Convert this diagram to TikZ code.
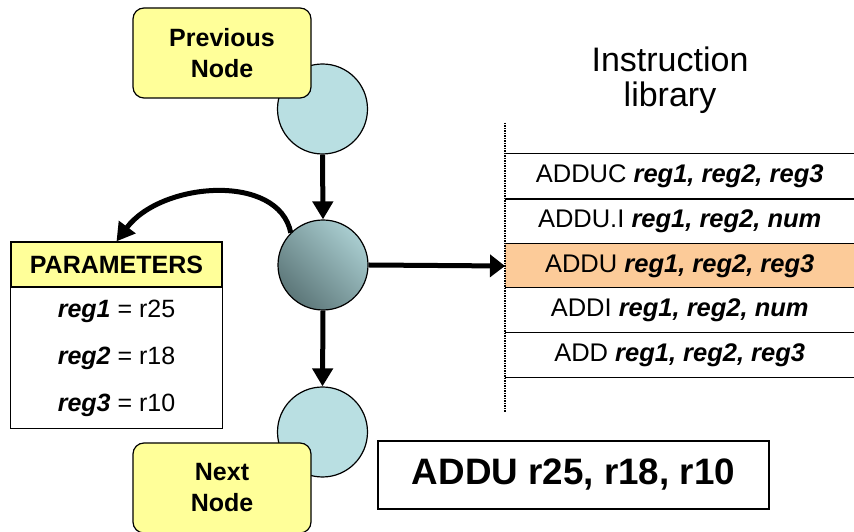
\documentclass[tikz,border=0pt]{standalone}
\usepackage{fontspec}
\setmainfont{Liberation Sans}
\usetikzlibrary{arrows.meta,shadings}
\definecolor{nodeblue}{HTML}{B9DFE2}
\definecolor{darkteal}{HTML}{4C6466}
\colorlet{midteal}{nodeblue!50!darkteal}
\definecolor{lblyellow}{HTML}{FFFF99}
\definecolor{rowfill}{HTML}{FCCB99}
\tikzset{
  stepnode/.style={circle, draw=black, line width=1.2pt, fill=nodeblue, minimum size=90pt, inner sep=0pt},
  labelbox/.style={draw=black, line width=1.2pt, fill=lblyellow, rounded corners=11pt, minimum width=178pt, minimum height=90pt, align=center, font=\fontsize{25}{31}\selectfont\bfseries, inner sep=0pt},
  flow/.style={line width=5pt, -{Triangle[length=18pt,width=20pt]}},
  librow/.style={minimum width=349pt, minimum height=44.5pt, inner sep=0pt, anchor=west, font=\fontsize{25.5}{28}\selectfont},
  parrow/.style={minimum width=211pt, minimum height=46.7pt, inner sep=0pt, font=\fontsize{25}{30}\selectfont},
  rule/.style={line width=1.2pt}
}
\newcommand{\rg}[1]{\textbf{\textit{#1}}}
\begin{document}
\begin{tikzpicture}[x=1pt,y=1pt]
\useasboundingbox (0,0) rectangle (854,532);
% circles
\node[stepnode] (top) at (322.5,423) {};
\node[stepnode, fill=none, lower left=darkteal, upper right=nodeblue, upper left=midteal, lower right=midteal] (mid) at (323,267) {};
\node[stepnode] (bot) at (322.5,100) {};
% label boxes
\node[labelbox] (prev) at (222,479) {Previous\\Node};
\node[labelbox] (next) at (222,44) {Next\\Node};
% parameters table
\node[parrow, draw, rule, fill=lblyellow, minimum height=45pt, font=\fontsize{25}{30}\selectfont\bfseries] (hdr) at (116.5,267.5) {PARAMETERS};
\node[parrow, anchor=north] (p1) at (hdr.south) {\rg{reg1} = r25};
\node[parrow, anchor=north] (p2) at (p1.south) {\rg{reg2} = r18};
\node[parrow, anchor=north] (p3) at (p2.south) {\rg{reg3} = r10};
\draw[rule] (hdr.south west) rectangle (p3.south east);
% instruction library
\node[font=\fontsize{34}{35}\selectfont, align=center] (title) at (670,452) {Instruction\\library};
\node[librow] (r1) at (505,356) {ADDUC \rg{reg1, reg2, reg3}};
\node[librow] (r2) at (505,310.5) {ADDU.I \rg{reg1, reg2, num}};
\node[librow, fill=rowfill] (r3) at (505,266) {ADDU \rg{reg1, reg2, reg3}};
\node[librow] (r4) at (505,222) {ADDI \rg{reg1, reg2, num}};
\node[librow] (r5) at (505,177) {ADD \rg{reg1, reg2, reg3}};
\foreach \r in {r1,r2,r3,r4,r5}{\draw[rule] (\r.north west) -- (\r.north east);}
\draw[rule] (r5.south west) -- (r5.south east);
\coordinate (vtop) at (505,409);
\coordinate (vbot) at (505,120);
\draw[line width=1.5pt, densely dotted] (vtop) -- (vbot);
% result
\node[draw, rule, minimum width=391pt, minimum height=68pt, inner sep=0pt, font=\fontsize{36.8}{40}\selectfont\bfseries] (res) at (573.5,57) {ADDU r25, r18, r10};
% connectors
\draw[flow] (top.south) -- (mid.north);
\draw[flow] (mid.south) -- (bot.north);
\draw[flow, -{Triangle[length=15pt,width=22pt]}] (mid.east) -- (r3.west);
\draw[flow] (mid.135) .. controls +(-12,60) and +(45,60) .. (hdr.north);
\end{tikzpicture}
\end{document}
